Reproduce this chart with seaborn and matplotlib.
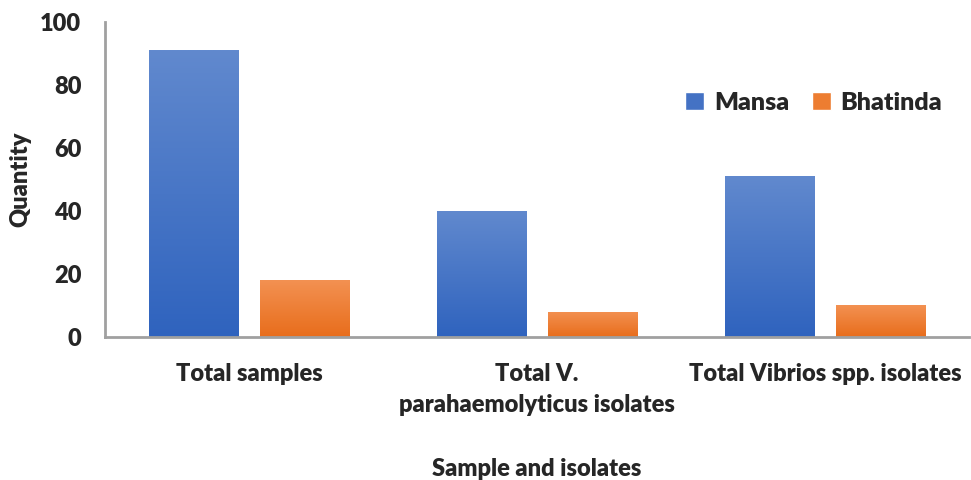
import numpy as np
import pandas as pd
import matplotlib.pyplot as plt
import seaborn as sns
from matplotlib.colors import LinearSegmentedColormap
from matplotlib.patches import Patch

categories = ["Total samples", "Total V.\nparahaemolyticus isolates", "Total Vibrios spp. isolates"]
mansa = [91, 40, 51]
bhatinda = [18, 8, 10]
series_names = ["Mansa", "Bhatinda"]

df = pd.DataFrame({
    "category": categories * 2,
    "value": mansa + bhatinda,
    "district": [series_names[0]] * 3 + [series_names[1]] * 3,
})

sns.set_style("white")
plt.rcParams["font.family"] = ["Lato", "DejaVu Sans"]

fig = plt.figure(figsize=(9.71, 4.80), dpi=100)
ax = fig.add_axes([0.108, 0.298, 0.89, 0.656])

palette = {"Mansa": "#4472C4", "Bhatinda": "#ED7D31"}
gradients = {
    "Mansa": ("#2F63BE", "#6189CE"),
    "Bhatinda": ("#E86D1B", "#F39152"),
}

sns.barplot(
    data=df,
    x="category",
    y="value",
    hue="district",
    palette=palette,
    width=0.772,
    gap=0.197,
    legend=False,
    ax=ax,
)

# gradient fill, light on top, dark at bottom
for container, name in zip(ax.containers, series_names):
    cmap = LinearSegmentedColormap.from_list(name, gradients[name])
    grad = np.linspace(0, 1, 256).reshape(-1, 1)
    for bar in container:
        x0, y0 = bar.get_x(), bar.get_y()
        w, h = bar.get_width(), bar.get_height()
        im = ax.imshow(
            grad,
            cmap=cmap,
            aspect="auto",
            origin="lower",
            extent=[x0, x0 + w, y0, y0 + h],
            zorder=bar.get_zorder() + 0.1,
        )
        im.set_clip_path(bar)

ax.set_xlim(-0.5, 2.5)
ax.set_ylim(0, 100)
ax.set_yticks([0, 20, 40, 60, 80, 100])

for side in ["top", "right"]:
    ax.spines[side].set_visible(False)
for side in ["left", "bottom"]:
    ax.spines[side].set_color("#A0A0A0")
    ax.spines[side].set_linewidth(2)

ax.tick_params(axis="both", length=0, labelsize=17)
ax.tick_params(axis="y", pad=17)
ax.tick_params(axis="x", pad=19)
for lab in ax.get_xticklabels() + ax.get_yticklabels():
    lab.set_fontweight("heavy")
    lab.set_linespacing(1.5)

ax.set_xlabel("Sample and isolates", fontsize=17, fontweight="heavy", labelpad=30)
ax.set_ylabel("Quantity", fontsize=17, fontweight="heavy", labelpad=6)

handles = [
    Patch(facecolor=palette[n], label=n) for n in series_names
]
ax.legend(
    handles=handles,
    loc="upper right",
    bbox_to_anchor=(0.995, 0.85),
    ncol=2,
    frameon=False,
    prop={"weight": "heavy", "size": 18},
    handlelength=0.75,
    handleheight=0.75,
    handletextpad=0.4,
    columnspacing=0.9,
)

fig.savefig("out.png", dpi=100)
